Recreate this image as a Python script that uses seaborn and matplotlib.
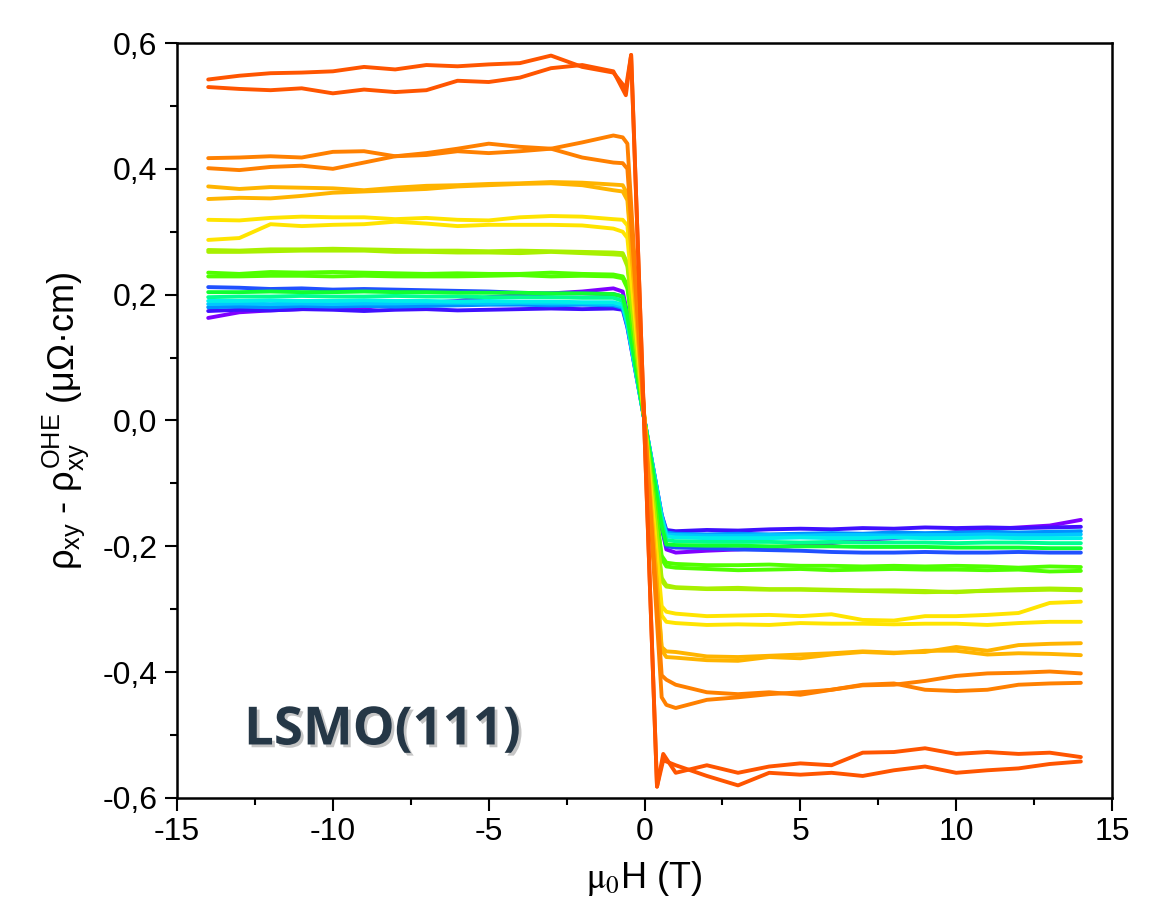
import matplotlib
matplotlib.use("Agg")
import matplotlib.pyplot as plt
import matplotlib.patheffects as pe
from matplotlib.ticker import MultipleLocator, FuncFormatter
import seaborn as sns
import pandas as pd

# ---------------- data ----------------
FIELD = [-14, -13, -12, -11, -10, -9, -8, -7, -6, -5, -4, -3, -2, -1,
         -0.7, -0.55, 0, 0.55, 0.7,
         1, 2, 3, 4, 5, 6, 7, 8, 9, 10, 11, 12, 13, 14]
FIELD_RO = [-14, -13, -12, -11, -10, -9, -8, -7, -6, -5, -4, -3, -2, -1,
            -0.6, -0.43, 0.4, 0.6,
            1, 2, 3, 4, 5, 6, 7, 8, 9, 10, 11, 12, 13, 14]

C1_A = [0.163, 0.172, 0.175, 0.177, 0.180, 0.179, 0.185, 0.187, 0.190, 0.196, 0.199, 0.202, 0.205, 0.210,
        0.205, 0.17, 0.0, -0.17, -0.205,
        -0.210, -0.207, -0.205, -0.202, -0.199, -0.195, -0.190, -0.187, -0.183, -0.177, -0.173, -0.170, -0.167, -0.158]
C2_A = [0.174, 0.176, 0.175, 0.177, 0.176, 0.174, 0.176, 0.177, 0.175, 0.176, 0.177, 0.178, 0.177, 0.178,
        0.176, 0.148, 0.0, -0.150, -0.174,
        -0.176, -0.174, -0.175, -0.173, -0.172, -0.173, -0.171, -0.172, -0.170, -0.171, -0.170, -0.171, -0.170, -0.169]
C3_A = [0.212, 0.211, 0.209, 0.210, 0.208, 0.209, 0.208, 0.207, 0.206, 0.205, 0.203, 0.202, 0.202, 0.201,
        0.197, 0.168, 0.0, -0.170, -0.200,
        -0.202, -0.203, -0.205, -0.206, -0.207, -0.209, -0.210, -0.210, -0.209, -0.210, -0.210, -0.209, -0.210, -0.210]
C4_A = [0.180, 0.181, 0.180, 0.182, 0.181, 0.182, 0.181, 0.182, 0.183, 0.184, 0.184, 0.183, 0.184, 0.183,
        0.179, 0.150, 0.0, -0.150, -0.178,
        -0.180, -0.181, -0.180, -0.181, -0.180, -0.179, -0.180, -0.178, -0.179, -0.178, -0.177, -0.178, -0.177, -0.176]
C5_A = [0.185, 0.186, 0.185, 0.186, 0.185, 0.186, 0.186, 0.187, 0.187, 0.186, 0.187, 0.186, 0.186, 0.185,
        0.181, 0.152, 0.0, -0.152, -0.181,
        -0.182, -0.183, -0.183, -0.182, -0.183, -0.182, -0.182, -0.183, -0.182, -0.182, -0.181, -0.182, -0.182, -0.181]
C6_A = [0.190, 0.190, 0.191, 0.190, 0.190, 0.191, 0.190, 0.190, 0.189, 0.190, 0.189, 0.189, 0.188, 0.188,
        0.184, 0.155, 0.0, -0.155, -0.184,
        -0.186, -0.187, -0.187, -0.187, -0.186, -0.187, -0.187, -0.186, -0.187, -0.187, -0.186, -0.187, -0.187, -0.187]
C7_A = [0.196, 0.197, 0.197, 0.198, 0.197, 0.197, 0.198, 0.197, 0.197, 0.196, 0.196, 0.196, 0.195, 0.195,
        0.190, 0.160, 0.0, -0.160, -0.190,
        -0.192, -0.193, -0.193, -0.193, -0.194, -0.193, -0.194, -0.194, -0.194, -0.195, -0.194, -0.194, -0.195, -0.195]
C8_A = [0.204, 0.204, 0.205, 0.204, 0.204, 0.205, 0.204, 0.204, 0.203, 0.203, 0.203, 0.202, 0.202, 0.201,
        0.197, 0.167, 0.0, -0.168, -0.197,
        -0.198, -0.199, -0.199, -0.200, -0.200, -0.200, -0.201, -0.201, -0.201, -0.202, -0.202, -0.202, -0.203, -0.203]

GR_A = [0.235, 0.233, 0.236, 0.235, 0.236, 0.235, 0.234, 0.233, 0.234, 0.233, 0.233, 0.235, 0.233, 0.232,
        0.229, 0.215, 0.0, -0.215, -0.226,
        -0.228, -0.230, -0.230, -0.229, -0.231, -0.231, -0.232, -0.231, -0.232, -0.231, -0.232, -0.234, -0.232, -0.233]
GR_B = [0.229, 0.229, 0.230, 0.230, 0.229, 0.230, 0.229, 0.229, 0.229, 0.230, 0.231, 0.229, 0.230, 0.229,
        0.226, 0.210, 0.0, -0.220, -0.232,
        -0.234, -0.236, -0.238, -0.237, -0.236, -0.238, -0.237, -0.236, -0.237, -0.237, -0.238, -0.237, -0.240, -0.239]

YG_A = [0.271, 0.270, 0.272, 0.272, 0.273, 0.272, 0.271, 0.270, 0.270, 0.269, 0.270, 0.269, 0.268, 0.267,
        0.266, 0.250, 0.0, -0.255, -0.264,
        -0.266, -0.268, -0.268, -0.269, -0.269, -0.270, -0.271, -0.272, -0.273, -0.272, -0.271, -0.270, -0.269, -0.270]
YG_B = [0.268, 0.268, 0.269, 0.270, 0.270, 0.270, 0.268, 0.268, 0.267, 0.267, 0.266, 0.268, 0.266, 0.264,
        0.263, 0.245, 0.0, -0.250, -0.262,
        -0.265, -0.267, -0.266, -0.268, -0.268, -0.269, -0.270, -0.270, -0.271, -0.273, -0.270, -0.268, -0.267, -0.268]

YE_A = [0.319, 0.318, 0.322, 0.324, 0.323, 0.323, 0.320, 0.322, 0.319, 0.318, 0.323, 0.325, 0.324, 0.320,
        0.319, 0.310, 0.0, -0.295, -0.304,
        -0.307, -0.311, -0.310, -0.309, -0.311, -0.308, -0.317, -0.318, -0.311, -0.311, -0.309, -0.306, -0.290, -0.288]
YE_B = [0.287, 0.290, 0.312, 0.309, 0.311, 0.312, 0.316, 0.313, 0.309, 0.311, 0.311, 0.311, 0.310, 0.305,
        0.300, 0.290, 0.0, -0.310, -0.320,
        -0.322, -0.325, -0.324, -0.325, -0.322, -0.323, -0.323, -0.324, -0.323, -0.323, -0.325, -0.322, -0.320, -0.320]

OY_A = [0.372, 0.368, 0.371, 0.370, 0.369, 0.366, 0.370, 0.373, 0.374, 0.376, 0.377, 0.379, 0.378, 0.375,
        0.374, 0.360, 0.0, -0.360, -0.367,
        -0.368, -0.375, -0.376, -0.374, -0.372, -0.370, -0.367, -0.369, -0.368, -0.360, -0.366, -0.357, -0.355, -0.354]
OY_B = [0.352, 0.354, 0.353, 0.357, 0.362, 0.364, 0.366, 0.368, 0.372, 0.374, 0.376, 0.377, 0.374, 0.366,
        0.364, 0.350, 0.0, -0.365, -0.376,
        -0.377, -0.381, -0.382, -0.376, -0.378, -0.372, -0.368, -0.370, -0.366, -0.366, -0.372, -0.370, -0.371, -0.373]

OR_A = [0.417, 0.418, 0.420, 0.418, 0.427, 0.428, 0.420, 0.425, 0.432, 0.440, 0.435, 0.432, 0.442, 0.453,
        0.450, 0.440, 0.0, -0.440, -0.452,
        -0.457, -0.444, -0.440, -0.435, -0.432, -0.428, -0.421, -0.420, -0.414, -0.406, -0.402, -0.401, -0.399, -0.402]
OR_B = [0.401, 0.398, 0.403, 0.405, 0.400, 0.410, 0.420, 0.422, 0.428, 0.425, 0.428, 0.432, 0.418, 0.410,
        0.409, 0.400, 0.0, -0.405, -0.412,
        -0.420, -0.432, -0.435, -0.432, -0.436, -0.428, -0.420, -0.418, -0.428, -0.430, -0.428, -0.420, -0.418, -0.417]

RO_A = [0.542, 0.548, 0.552, 0.553, 0.555, 0.562, 0.558, 0.565, 0.563, 0.566, 0.568, 0.580, 0.562, 0.553,
        0.528, 0.581, -0.582, -0.540,
        -0.548, -0.565, -0.580, -0.560, -0.563, -0.560, -0.565, -0.556, -0.550, -0.560, -0.556, -0.553, -0.546, -0.542]
RO_B = [0.530, 0.527, 0.525, 0.528, 0.520, 0.526, 0.522, 0.525, 0.540, 0.538, 0.545, 0.560, 0.565, 0.555,
        0.517, 0.581, -0.582, -0.530,
        -0.560, -0.548, -0.560, -0.550, -0.545, -0.548, -0.528, -0.527, -0.521, -0.530, -0.527, -0.530, -0.528, -0.535]

CURVES = ["C1", "C2", "C3", "C4", "C5", "C6", "C7", "C8", "GR", "YG", "YE", "OY", "OR", "RO"]
COLORS = ["#8000ff", "#4010ff", "#2050ff", "#0090ff", "#00c8ff", "#00f0e8", "#00ff90",
          "#10ff30", "#50ff00", "#a8f000", "#ffe400", "#ffb400", "#ff8000", "#ff5500"]

BRANCHES = [
    ("C1", "a", FIELD, C1_A), ("C2", "a", FIELD, C2_A), ("C3", "a", FIELD, C3_A),
    ("C4", "a", FIELD, C4_A), ("C5", "a", FIELD, C5_A), ("C6", "a", FIELD, C6_A),
    ("C7", "a", FIELD, C7_A), ("C8", "a", FIELD, C8_A),
    ("GR", "a", FIELD, GR_A), ("GR", "b", FIELD, GR_B),
    ("YG", "a", FIELD, YG_A), ("YG", "b", FIELD, YG_B),
    ("YE", "a", FIELD, YE_A), ("YE", "b", FIELD, YE_B),
    ("OY", "a", FIELD, OY_A), ("OY", "b", FIELD, OY_B),
    ("OR", "a", FIELD, OR_A), ("OR", "b", FIELD, OR_B),
    ("RO", "a", FIELD_RO, RO_A), ("RO", "b", FIELD_RO, RO_B),
]

frames = []
for name, br, hx, vy in BRANCHES:
    frames.append(pd.DataFrame({"H": hx, "rho": vy, "curve": name, "branch": name + br}))
df = pd.concat(frames, ignore_index=True)

# ---------------- style ----------------
sns.set_theme(style="ticks")
plt.rcParams["font.family"] = ["Liberation Sans", "DejaVu Sans"]
plt.rcParams["axes.unicode_minus"] = False
plt.rcParams["mathtext.fontset"] = "custom"
plt.rcParams["mathtext.rm"] = "Liberation Sans"
plt.rcParams["mathtext.it"] = "Liberation Sans"
plt.rcParams["mathtext.bf"] = "Liberation Sans:bold"
plt.rcParams["mathtext.sf"] = "Liberation Sans"

fig = plt.figure(figsize=(11.67, 9.19), dpi=100, facecolor="white")
ax = fig.add_axes([0.1517, 0.1317, 0.8012, 0.8215])
ax.set_facecolor("white")

sns.lineplot(data=df, x="H", y="rho", hue="curve", units="branch", estimator=None,
             hue_order=CURVES, palette=COLORS, legend=False, sort=False,
             linewidth=2.8, ax=ax)

ax.set_xlim(-15, 15)
ax.set_ylim(-0.6, 0.6)
ax.xaxis.set_major_locator(MultipleLocator(5))
ax.xaxis.set_minor_locator(MultipleLocator(2.5))
ax.yaxis.set_major_locator(MultipleLocator(0.2))
ax.yaxis.set_minor_locator(MultipleLocator(0.1))
ax.xaxis.set_major_formatter(FuncFormatter(lambda v, p: f"{v:.0f}"))
ax.yaxis.set_major_formatter(FuncFormatter(lambda v, p: f"{v:.1f}".replace(".", ",").replace("-0,0", "0,0")))

for s in ax.spines.values():
    s.set_visible(True)
    s.set_color("black")
    s.set_linewidth(1.8)

ax.tick_params(which="both", direction="out", top=False, right=False, color="black",
               width=1.5, labelsize=23, labelcolor="black")
ax.tick_params(which="major", length=9, pad=5)
ax.tick_params(which="minor", length=5)

ax.set_xlabel(r"$\mathrm{\mu_0}$H (T)", fontsize=26, color="black", labelpad=8,
              math_fontfamily="stix")
ax.set_ylabel(r"$\rho_{xy}$ - $\rho_{xy}^{OHE}$ (μΩ·cm)", fontsize=26, color="black", labelpad=8)

ax.text(-12.85, -0.515, "LSMO(111)", fontsize=38, fontweight="bold", family="Open Sans",
        color="#253746", va="baseline", ha="left",
        path_effects=[pe.withSimplePatchShadow(offset=(2, -2), shadow_rgbFace="#808080", alpha=0.45)])

fig.savefig("out.png", dpi=100, facecolor="white")
